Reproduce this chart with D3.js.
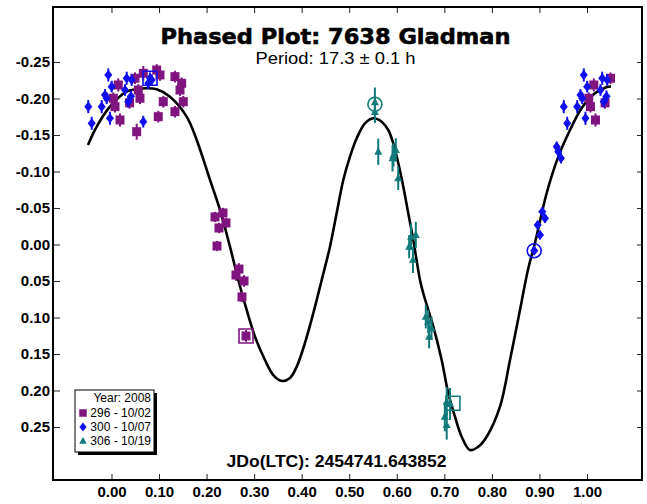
<!DOCTYPE html>
<html><head><meta charset="utf-8">
<script src="https://cdn.jsdelivr.net/npm/d3@7"></script>
<style>body{margin:0;background:#fff}svg{display:block}</style>
</head><body>
<svg id="chart" width="647" height="504"></svg>
<script>
// ---- data (phase, reduced magnitude, error) ----
const seriesNames = ["296 - 10/02", "300 - 10/07", "306 - 10/19"];
const legendTitle = "Year: 2008";
const titleText = "Phased Plot: 7638 Gladman";
const periodText = "Period: 17.3 \u00B1 0.1 h";
const epochText = "JDo(LTC): 2454741.643852";

const xTicks = [0, 0.1, 0.2, 0.3, 0.4, 0.5, 0.6, 0.7, 0.8, 0.9, 1.0];
const xTickLabels = ["0.00","0.10","0.20","0.30","0.40","0.50","0.60","0.70","0.80","0.90","1.00"];
const yTicks = [-0.25, -0.20, -0.15, -0.10, -0.05, 0, 0.05, 0.10, 0.15, 0.20, 0.25];
const yTickLabels = ["-0.25","-0.20","-0.15","-0.10","-0.05","0.00","0.05","0.10","0.15","0.20","0.25"];

const session296 = [
  [0.0038,-0.2003,0.008],[0.0074,-0.1888,0.008],[0.0143,-0.2185,0.009],[0.0179,-0.1705,0.009],
  [0.0380,-0.1940,0.008],[0.0494,-0.2277,0.008],[0.0530,-0.1545,0.011],[0.0564,-0.2116,0.008],
  [0.0599,-0.2003,0.008],[0.0669,-0.2345,0.010],[0.0951,-0.2390,0.008],[0.1020,-0.2322,0.008],
  [0.0984,-0.1751,0.008],[0.1089,-0.1956,0.008],[0.1335,-0.2299,0.008],[0.1335,-0.1819,0.008],
  [0.1441,-0.2116,0.008],[0.1476,-0.2208,0.008],[0.1510,-0.1956,0.008],
  [0.2177,-0.0377,0.007],[0.2345,-0.0432,0.007],[0.2408,-0.0295,0.007],[0.2261,-0.0226,0.007],
  [0.2219,0.0021,0.007],[0.2681,0.0336,0.008],[0.2618,0.0418,0.008],[0.2787,0.0500,0.008],
  [0.2744,0.0719,0.007],[0.2829,0.1253,0.008]
];
const session300 = [
  [0.0004,-0.2162,0.008],[0.0284,-0.2116,0.008],[0.0320,-0.2277,0.009],[0.0353,-0.1956,0.008],
  [0.0410,-0.2030,0.008],[0.0425,-0.2253,0.008],[0.0669,-0.1682,0.008],[0.0774,-0.2208,0.008],
  [0.0810,-0.2277,0.008],[0.0845,-0.2253,0.008],
  [0.8890,0.0085,0.005],[0.8963,-0.0267,0.006],[0.9012,-0.0130,0.006],[0.9060,-0.0449,0.006],
  [0.9117,-0.0359,0.006],[0.9363,-0.1340,0.007],[0.9397,-0.1271,0.007],[0.9453,-0.1181,0.007],
  [0.9512,-0.1888,0.009],[0.9584,-0.1660,0.009],[0.9794,-0.1888,0.009],[0.9863,-0.2048,0.008],
  [0.9899,-0.2003,0.008],[0.9933,-0.2322,0.009],[0.9968,-0.1729,0.009]
];
const session306 = [
  [0.5540,-0.1950,0.020],[0.5540,-0.1815,0.015],[0.5610,-0.1270,0.018],[0.5910,-0.1180,0.018],
  [0.5930,-0.1226,0.016],[0.5980,-0.1295,0.016],[0.6030,-0.0907,0.016],[0.6260,0.0030,0.016],
  [0.6300,-0.0107,0.018],[0.6340,0.0210,0.018],[0.6400,-0.0130,0.018],[0.6610,0.0990,0.016],
  [0.6660,0.1058,0.016],[0.6680,0.1263,0.016],[0.6730,0.1148,0.016],[0.7010,0.2359,0.020],
  [0.7050,0.2153,0.020],[0.7050,0.2473,0.020],[0.7120,0.2185,0.022]
];
// highlighted (hollow) markers: [session index, shape, phase, mag]
const openMarkers = [
  [0, "square", 0.2829, 0.1253],
  [1, "square", 0.0810, -0.2277],
  [1, "circle", 0.8890, 0.0085],
  [2, "circle", 0.5540, -0.1920],
  [2, "square", 0.7180, 0.2175]
];
// Fourier fit curve (phase, mag)
const fitCurve = [
  [-0.0494,-0.1363],[-0.0311,-0.1614],[-0.0032,-0.1888],[0.0320,-0.2093],[0.0705,-0.2140],
  [0.0951,-0.2126],[0.1230,-0.2025],[0.1581,-0.1751],[0.1792,-0.1432],[0.2072,-0.0884],
  [0.2282,-0.0473],[0.2492,0.0030],[0.2667,0.0486],[0.2843,0.0897],[0.3018,0.1263],
  [0.3228,0.1582],[0.3403,0.1788],[0.3586,0.1870],[0.3754,0.1829],[0.3895,0.1674],
  [0.4069,0.1349],[0.4244,0.0942],[0.4421,0.0486],[0.4595,0.0030],[0.4736,-0.0432],
  [0.4875,-0.0884],[0.5016,-0.1203],[0.5157,-0.1455],[0.5331,-0.1660],[0.5506,-0.1729],
  [0.5682,-0.1682],[0.5821,-0.1568],[0.5926,-0.1386],[0.6032,-0.1112],[0.6137,-0.0792],
  [0.6242,-0.0427],[0.6347,-0.0062],[0.6488,0.0486],[0.6557,0.0668],[0.6768,0.1126],
  [0.6944,0.1582],[0.7083,0.2038],[0.7224,0.2359],[0.7365,0.2633],[0.7539,0.2815],
  [0.7714,0.2770],[0.7891,0.2633],[0.8170,0.2222],[0.8381,0.1582],[0.8570,0.0966],
  [0.8766,0.0326],[0.8906,-0.0021],[0.9153,-0.0705],[0.9397,-0.1203],[0.9643,-0.1568],
  [0.9889,-0.1870],[1.0147,-0.2062],[1.0421,-0.2158],[1.0505,-0.2164]
];

// ---- styling ----
const colors = ["#80157f", "#1010ee", "#127a7a"];
const shapes = ["square", "diamond", "triangle"];
const markerSizes = [9, 8.5, 8];
const W = 647, H = 504;
const frame = {left: 53, right: 642, top: 7, bottom: 480};
const textCenter = 335.5;

const svg = d3.select("#chart");
svg.append("rect").attr("width", W).attr("height", H).attr("fill", "#fff");

const x = d3.scaleLinear().domain([-0.123, 1.1157]).range([frame.left, frame.right]);
const y = d3.scaleLinear().domain([-0.3253, 0.3226]).range([frame.top, frame.bottom]);

function markerPath(shape, s) {
  const h = s / 2;
  if (shape === "square") return `M${-h},${-h}H${h}V${h}H${-h}Z`;
  if (shape === "diamond") return `M0,${-h*1.2}L${h*0.95},0L0,${h*1.2}L${-h*0.95},0Z`;
  if (shape === "triangle") return `M0,${-h*1.1}L${h},${h*0.75}L${-h},${h*0.75}Z`;
  return "";
}

// axes
const axFont = "'Liberation Sans', Arial, sans-serif";
function styleAxis(g) {
  g.select(".domain").remove();
  g.selectAll(".tick line").attr("stroke", "#222").attr("stroke-width", 1);
  g.selectAll(".tick text").attr("fill", "#000").attr("font-family", axFont)
    .attr("font-weight", "bold").attr("font-size", 15);
}
svg.append("g").attr("transform", `translate(0,${frame.bottom})`)
  .call(d3.axisBottom(x).tickValues(xTicks).tickFormat((d, i) => xTickLabels[i]).tickSize(-6).tickPadding(6))
  .call(styleAxis);
svg.append("g").attr("transform", `translate(0,${frame.top})`)
  .call(d3.axisTop(x).tickValues(xTicks).tickFormat("").tickSize(-6))
  .call(styleAxis);
svg.append("g").attr("transform", `translate(${frame.left},0)`)
  .call(d3.axisLeft(y).tickValues(yTicks).tickFormat((d, i) => yTickLabels[i]).tickSize(-7).tickPadding(3))
  .call(styleAxis);
svg.append("g").attr("transform", `translate(${frame.right},0)`)
  .call(d3.axisRight(y).tickValues(yTicks).tickFormat("").tickSize(-5))
  .call(styleAxis);

// frame
svg.append("rect").attr("x", frame.left).attr("y", frame.top)
  .attr("width", frame.right - frame.left).attr("height", frame.bottom - frame.top)
  .attr("fill", "none").attr("stroke", "#000").attr("stroke-width", 2);

// texts
svg.append("text").attr("x", textCenter).attr("y", 43.5).attr("text-anchor", "middle")
  .attr("font-family", "'DejaVu Sans', sans-serif").attr("font-weight", "bold").attr("font-size", 22)
  .attr("textLength", 350).attr("lengthAdjust", "spacingAndGlyphs")
  .attr("stroke", "#000").attr("stroke-width", 0.6).text(titleText);
svg.append("text").attr("x", textCenter).attr("y", 63.5).attr("text-anchor", "middle")
  .attr("font-family", axFont).attr("font-size", 16)
  .attr("textLength", 160).attr("lengthAdjust", "spacingAndGlyphs").text(periodText);
svg.append("text").attr("x", textCenter + 1).attr("y", 467).attr("text-anchor", "middle")
  .attr("font-family", axFont).attr("font-weight", "bold").attr("font-size", 16)
  .attr("textLength", 220).attr("lengthAdjust", "spacingAndGlyphs").text(epochText);

// fit curve
svg.append("path").datum(fitCurve)
  .attr("d", d3.line().x(d => x(d[0])).y(d => y(d[1])).curve(d3.curveCatmullRom))
  .attr("fill", "none").attr("stroke", "#000").attr("stroke-width", 2.6);

// data points with wrapping into -0.05 .. 1.05
function expand(arr) {
  const out = [];
  arr.forEach(p => {
    out.push(p);
    if (p[0] + 1 <= 1.05) out.push([p[0] + 1, p[1], p[2]]);
    if (p[0] - 1 >= -0.05) out.push([p[0] - 1, p[1], p[2]]);
  });
  return out;
}
const sessions = [session296, session300, session306];
sessions.forEach((arr, si) => {
  const pts = expand(arr);
  const g = svg.append("g");
  g.selectAll("line").data(pts).join("line")
    .attr("x1", d => x(d[0])).attr("x2", d => x(d[0]))
    .attr("y1", d => y(d[1] - d[2])).attr("y2", d => y(d[1] + d[2]))
    .attr("stroke", colors[si]).attr("stroke-width", 2);
  g.selectAll("path").data(pts).join("path")
    .attr("transform", d => `translate(${x(d[0])},${y(d[1])})`)
    .attr("d", markerPath(shapes[si], markerSizes[si]))
    .attr("fill", colors[si]);
});

// hollow markers
openMarkers.forEach(m => {
  const [si, shape, ph, mg] = m;
  const cx = x(ph), cy = y(mg);
  if (shape === "circle") {
    svg.append("circle").attr("cx", cx).attr("cy", cy).attr("r", 7)
      .attr("fill", "none").attr("stroke", colors[si]).attr("stroke-width", 1.6);
  } else {
    svg.append("path").attr("transform", `translate(${cx},${cy})`)
      .attr("d", markerPath("square", 14)).attr("fill", "none")
      .attr("stroke", colors[si]).attr("stroke-width", 1.6);
  }
});

// legend
const lg = svg.append("g");
const L = {x: 75, y: 390, w: 79, h: 62};
lg.append("rect").attr("x", L.x + 3).attr("y", L.y + 3).attr("width", L.w).attr("height", L.h).attr("fill", "#000");
lg.append("rect").attr("x", L.x).attr("y", L.y).attr("width", L.w).attr("height", L.h)
  .attr("fill", "#fff").attr("stroke", "#000").attr("stroke-width", 1);
lg.append("text").attr("x", L.x + L.w - 3).attr("y", L.y + 12).attr("text-anchor", "end")
  .attr("font-family", axFont).attr("font-size", 12).text(legendTitle);
seriesNames.forEach((name, i) => {
  const cy = L.y + 23 + i * 14;
  lg.append("path").attr("transform", `translate(${L.x + 8},${cy})`)
    .attr("d", markerPath(shapes[i], 7.5)).attr("fill", colors[i]);
  lg.append("text").attr("x", L.x + L.w - 3).attr("y", cy + 4).attr("text-anchor", "end")
    .attr("font-family", axFont).attr("font-size", 12).text(name);
});
</script>
</body></html>
